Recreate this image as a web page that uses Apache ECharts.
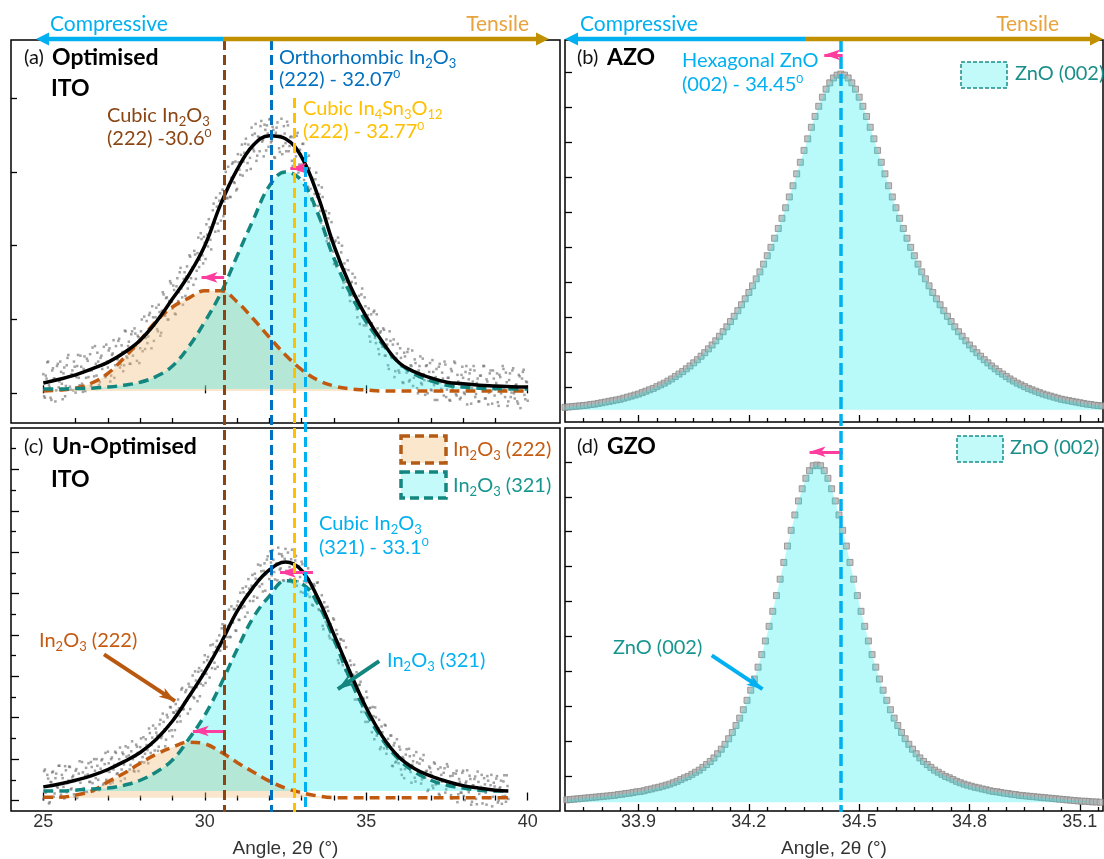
<!DOCTYPE html>
<html>
<head>
<meta charset="utf-8">
<title>XRD peak shifts - ITO, AZO, GZO</title>
<script src="https://cdn.jsdelivr.net/npm/echarts@6.0.0/dist/echarts.min.js"></script>
<style>
  html, body { margin: 0; padding: 0; background: #fff; }
  #chart { width: 1104px; height: 859px; }
</style>
</head>
<body>
<div id="chart"></div>
<script>
// ---------- ITO scans: 2θ (°), intensity in arbitrary units ----------
// Each scan is stored as two interleaved halves: points at start + k·0.05°
// and points at start + 0.025° + k·0.05°.
const scanStep = 0.05;
const optScanStart = 25;
const optScan = [
  26,-6,20,43,8,-9,34,20,4,40, 16,29,-8,35,10,48,23,5,31,43,
  1,37,21,51,13,33,3,47,22,53, 31,15,64,24,43,15,51,40,24,66,
  35,61,24,54,21,64,46,74,39,56, 38,84,48,70,40,84,60,81,44,76,
  61,100,76,60,98,77,109,61,103,92, 116,84,110,82,137,107,129,100,125,149,
  115,140,107,156,137,170,130,155,132,172, 151,185,167,147,188,166,211,181,209,176,
  204,229,199,225,195,248,231,265,230,261, 234,276,260,300,264,282,266,311,286,314,
  277,313,296,337,314,338,302,337,319,360, 331,352,315,348,328,369,343,364,329,352,
  371,340,361,320,353,367,332,349,324,362, 339,368,328,347,315,347,327,349,299,330,
  310,338,306,320,280,305,262,289,270,299, 254,270,231,266,239,247,210,244,207,210,
  175,207,178,204,174,200,150,168,144,167, 125,151,132,157,114,126,94,134,103,130,
  92,106,77,107,88,112,68,88,53,84, 63,86,51,66,33,71,48,73,30,54,
  31,61,36,14,50,28,60,18,37,10, 46,27,0,37,14,47,18,37,0,29,
  5,45,11,22,-9,36,15,28,-3,39, 5,21,-10,30,10,41,-3,16,-8,25,
  21,-1,37,5,27,-14,16,31,-1,20, -11,24,8,37,-7,16,1,31,-14,20,
  5,27,-17,22,9,33,-5,15,-11,27, 1,34,-7,12,-14,23,3,29,-2,16,
  -10
];
const optScanMid = [
  -4,24,42,11,-6,31,20,-11,37,8, 43,13,27,-4,38,52,9,26,4,36,
  22,52,11,36,2,50,21,44,31,10, 62,23,40,55,11,48,33,63,22,43,
  58,16,52,72,38,47,71,35,65,30, 85,50,64,40,80,51,88,64,78,41,
  84,57,104,75,68,106,87,118,71,103, 87,120,78,112,134,105,130,100,152,124,
  146,108,145,125,164,142,120,164,158,142, 187,156,171,193,155,190,171,217,187,212,
  182,215,236,208,223,257,219,253,220,271, 261,240,283,265,307,266,292,313,285,275,
  324,303,323,295,326,345,312,331,304,350, 328,365,322,347,362,341,321,357,363,334,
  372,342,357,319,360,348,327,372,335,352, 328,363,335,348,308,349,321,353,310,324,
  338,289,317,301,322,277,292,254,290,266, 282,247,279,226,242,206,237,210,232,192,
  205,172,211,178,191,143,176,151,180,133, 149,162,123,149,103,132,117,142,92,118,
  95,115,70,95,110,75,107,60,82,68, 88,51,73,38,84,49,66,22,48,67,
  28,48,15,55,34,56,16,38,58,21, 41,7,31,50,12,26,-2,38,17,41,
  4,29,-9,33,14,40,6,20,43,-5, 21,-9,33,6,43,-1,25,12,-6,36,
  1,29,-15,19,32,7,37,-5,14,-11, 24,10,37,-7,19,-15,27,3,31,-3,
  14,-12,25,0,37,6,28,-17,18,-5, 31,0,11,-11,25,-20,20,32,-8,15
];
const unoptScanStart = 25;
const unoptScan = [
  3,75,22,53,-4,44,70,17,65,31, 84,14,54,5,73,42,82,27,56,15,
  72,6,65,43,93,30,60,21,90,45, 81,22,72,100,50,67,97,38,88,50,
  118,69,100,44,86,115,66,100,47,116, 87,131,69,109,86,143,72,107,130,71,
  129,93,153,113,134,90,163,134,181,121, 164,120,184,151,210,172,147,201,168,225,
  155,212,233,190,223,191,272,221,262,242, 282,221,273,250,312,274,311,252,314,278,
  351,306,347,297,342,377,333,371,323,399, 373,426,371,411,395,461,395,436,462,411,
  471,437,502,465,503,444,498,535,482,519, 482,548,522,570,517,554,505,573,547,590,
  535,575,605,552,569,532,596,561,590,531, 608,550,575,535,606,556,580,519,566,540,
  577,502,552,527,561,492,520,471,519,485, 527,460,473,422,479,432,468,398,426,389,
  437,388,402,332,390,346,386,314,333,287, 338,286,304,244,310,264,280,214,248,214,
  263,190,223,195,226,148,201,174,195,129, 165,126,181,125,136,157,84,133,92,148,
  90,123,62,101,76,124,85,107,43,95, 55,117,70,89,41,97,55,70,23,82,
  68,36,92,39,55,16,80,46,67,19, 88,35,59,5,66,39,72,15,45,19,
  72,1,46,26,60,-10,37,52,4,70, 16,33,-7,54,19,59,6,37,-14,43,
  22,59,0,32,-8,46,11,61,4
];
const unoptScanMid = [
  71,19,62,-7,45,68,9,54,33,84, 8,62,33,83,20,48,81,29,60,9,
  76,49,95,26,68,20,79,63,45,93, 42,100,54,84,25,77,100,41,115,71,
  90,41,104,75,118,64,89,128,75,112, 53,106,128,75,119,100,70,135,115,92,
  150,105,92,148,122,174,115,152,108,174, 157,130,195,156,190,131,207,179,226,170,
  213,170,217,244,204,268,220,237,267,210, 275,254,302,247,290,240,320,282,305,334,
  284,339,325,375,320,358,318,386,371,362, 416,380,424,371,421,395,469,430,463,410,
  481,436,478,513,469,517,454,512,504,545, 493,536,490,535,568,523,555,507,582,555,
  602,544,582,534,573,611,558,595,532,584, 555,599,564,583,526,567,591,530,565,504,
  571,530,572,498,535,512,473,523,482,526, 462,479,496,414,466,428,458,392,418,440,
  381,412,339,379,389,327,344,370,317,282, 327,284,328,276,244,279,287,227,245,190,
  249,208,224,165,204,225,157,175,124,179, 142,183,113,149,130,157,83,139,94,110,
  130,75,105,54,111,82,125,69,86,109, 46,92,71,101,51,110,55,72,26,78,
  61,30,89,40,76,13,62,47,78,27, 82,36,13,60,40,65,-4,52,19,67,
  11,42,73,20,52,-3,36,58,-9,45, 24,62,7,39,-10,48,26,62,9,34,
  53,-5,29,48,10,61,-3,35
];

// ---------- Fitted ITO profiles, sampled every 0.5° ----------
const optFitAngles = [25,25.5,26,26.5,27,27.5,28,28.5,29,29.5,30,30.5,31,31.5,32,32.5,33,33.5,34,34.5,35,35.5,36,36.5,37,37.5,38,38.5,39,39.5,40];
const optFitTotal = [14,19,25,33,42,55,72,97,128,160,200,257,303,336,349,345,320,268,200,146,104,70,42,29,21,15,13,11,10,9,8.5];
const optFit222 = [3,4.5,7,14,27,48,72,98,117,129,139,139,124,101,76,52,32,18,10,6,4.5,3,3,3,3,3,3,3,3,3,3];
const optFit321 = [6,6,6.5,7,8.5,11,15,23,37,63,97,136,186,235,281,300,288,244,183,136,97,67,42,26,17,11,8.5,7,6.5,6,6];

const unoptFitAngles = [25,25.5,26,26.5,27,27.5,28,28.5,29,29.5,30,30.5,31,31.5,32,32.5,33,33.5,34,34.5,35,35.5,36,36.5,37,37.5,38,38.5,39,39.4];
const unoptFitTotal = [33,40,49,60,75,94,116,148,192,250,311,380,457,515,557,576,556,490,401,310,224,155,106,77,59,46,36,30,25,23];
const unoptFit222 = [8,8,13,23,45,66,90,112,129,141,137,117,92,69,47,30,19,11,7,7,7,7,7,7,7,7,7,7,7,7];
const unoptFit321 = [23,23,25,28,30,37,49,69,98,148,206,281,365,442,494,531,524,476,389,293,213,148,100,69,49,37,30,25,23,23];

// ---------- ZnO (002) scans, 0.01° steps, normalised intensity ----------
const zStep = 0.01;
const azoStart = 33.70;
const azoScan = [
  0.42,0.43,0.44,0.45,0.46,0.47,0.48,0.50,0.51,0.53, 0.55,0.57,0.59,0.61,0.63,0.65,0.68,0.71,0.74,0.77,
  0.80,0.84,0.88,0.92,0.96,1.01,1.06,1.11,1.17,1.23, 1.30,1.37,1.44,1.52,1.60,1.69,1.78,1.88,1.98,2.09,
  2.20,2.32,2.45,2.58,2.72,2.87,3.02,3.18,3.35,3.52, 3.70,3.89,4.09,4.29,4.51,4.75,4.99,5.25,5.53,5.82,
  6.12,6.43,6.75,7.09,7.42,7.76,8.09,8.42,8.73,9.02, 9.28,9.51,9.69,9.83,9.91,
  9.94,
  9.91,9.83,9.69,9.51,9.28,9.02,8.73,8.42,8.09,7.76, 7.42,7.09,6.75,6.43,6.12,5.82,5.53,5.25,4.99,4.75,
  4.51,4.29,4.09,3.89,3.70,3.52,3.35,3.18,3.02,2.87, 2.72,2.58,2.45,2.32,2.20,2.09,1.98,1.88,1.78,1.69,
  1.60,1.52,1.44,1.37,1.30,1.23,1.17,1.11,1.06,1.01, 0.96,0.92,0.88,0.84,0.80,0.77,0.74,0.71,0.68,0.65,
  0.63,0.61,0.59,0.57,0.55,0.53,0.51,0.50,0.48,0.47, 0.46
];
const gzoStart = 33.705;
const gzoScan = [
  0.32,0.33,0.34,0.35,0.36,0.37,0.38,0.39,0.40,0.41, 0.42,0.43,0.44,0.45,0.47,0.48,0.50,0.51,0.53,0.55,
  0.56,0.58,0.61,0.63,0.66,0.68,0.71,0.74,0.77,0.81, 0.85,0.90,0.95,0.99,1.05,1.11,1.17,1.25,1.33,1.42,
  1.52,1.64,1.77,1.91,2.07,2.25,2.45,2.66,2.90,3.17, 3.46,3.78,4.12,4.48,4.87,5.29,5.72,6.17,6.64,7.12,
  7.59,8.04,8.48,8.88,9.23,9.53,9.75,9.89,
  9.91,
  9.89,9.75,9.53,9.23,8.88,8.48,8.04,7.59,7.12,6.64, 6.17,5.72,5.29,4.87,4.48,4.12,3.78,3.46,3.17,2.90,
  2.66,2.45,2.25,2.07,1.91,1.77,1.64,1.52,1.42,1.33, 1.25,1.17,1.11,1.05,0.99,0.95,0.90,0.85,0.81,0.77,
  0.74,0.71,0.68,0.66,0.63,0.61,0.58,0.56,0.55,0.53, 0.51,0.50,0.48,0.47,0.45,0.44,0.43,0.42,0.41,0.40,
  0.39,0.38,0.37,0.36,0.35,0.34,0.33,0.32,0.31,0.30, 0.29,0.28,0.28,0.27,0.26,0.26,0.25
];

// Reference peak positions (°)
const itoRefAngles = [30.6, 32.07, 32.77, 33.1];
const znoRefAngle = 34.45;

// Axis ticks
const itoMajorTicks = [25, 30, 35, 40];
const itoMinorTicks = [26, 27, 28, 29, 31, 32, 33, 34, 36, 37, 38, 39];
const znoMajorTicks = [33.9, 34.2, 34.5, 34.8, 35.1];
const znoMinorTicks = [33.75, 33.8, 33.85, 33.95, 34.0, 34.05, 34.1, 34.15, 34.25, 34.3, 34.35, 34.4, 34.45,
  34.55, 34.6, 34.65, 34.7, 34.75, 34.85, 34.9, 34.95, 35.0, 35.05, 35.15];
const optYTicks = [0, 100, 200, 300, 400];
const unoptYMajor = [0, 100, 200, 300, 400, 500, 600, 700, 800];
const unoptYMinor = [50, 150, 250, 350, 450, 550, 650, 750, 850];
const znoYTicks = [1, 2, 3, 4, 5, 6, 7, 8, 9, 10];

// ---------- styling ----------
const FONT = 'Lato';
const AXIS_FONT = 'Liberation Sans';
const GRAY_DOT = 'rgba(110,110,110,0.8)';
const ORANGE = '#c05a10';
const TEAL = '#13877f';
const ORANGE_FILL = 'rgba(238,190,120,0.38)';
const CYAN_FILL = 'rgba(20,235,235,0.30)';
const PINK = '#ff3d9e';
const SKY = '#00b0f0';
const GOLD_ARROW = '#c09000';

const pairs = (xs, ys) => ys.map((y, i) => [xs[i], y]);
const scanPairs = (start, step, ys) => ys.map((y, i) => [+(start + i * step).toFixed(3), y]);

function tickAxis(gridIndex, min, max, values, length, extra) {
  return Object.assign({
    type: 'value', gridIndex, min, max,
    axisLine: { show: false },
    axisTick: { show: true, inside: true, length, customValues: values, lineStyle: { color: '#000', width: 1.3 } },
    axisLabel: { show: false },
    splitLine: { show: false },
    axisPointer: { show: false }
  }, extra || {});
}
const axisName = {
  name: 'Angle, 2\u03b8 (\u00b0)', nameLocation: 'middle', nameGap: 28,
  nameTextStyle: { fontSize: 19, fontFamily: AXIS_FONT, color: '#333' }
};
function labelled(values, fmt) {
  return { show: true, customValues: values, fontSize: 18, fontFamily: AXIS_FONT, color: '#333', margin: 2, formatter: fmt };
}

const ITO_X = [24, 41];
const ZNO_X = [33.7, 35.163];

const xAxis = [
  tickAxis(0, ITO_X[0], ITO_X[1], itoMajorTicks, 8, { position: 'bottom' }),
  tickAxis(0, ITO_X[0], ITO_X[1], itoMinorTicks, 5, { position: 'bottom' }),
  tickAxis(1, ITO_X[0], ITO_X[1], itoMajorTicks, 8, Object.assign({ position: 'bottom', axisLabel: labelled(itoMajorTicks, v => String(v)) }, axisName)),
  tickAxis(1, ITO_X[0], ITO_X[1], itoMinorTicks, 5, { position: 'bottom' }),
  tickAxis(2, ZNO_X[0], ZNO_X[1], znoMajorTicks, 7, { position: 'bottom' }),
  tickAxis(2, ZNO_X[0], ZNO_X[1], znoMinorTicks, 4, { position: 'bottom' }),
  tickAxis(3, ZNO_X[0], ZNO_X[1], znoMajorTicks, 7, Object.assign({ position: 'bottom', axisLabel: labelled(znoMajorTicks, v => v.toFixed(1)) }, axisName)),
  tickAxis(3, ZNO_X[0], ZNO_X[1], znoMinorTicks, 4, { position: 'bottom' }),
  { type: 'value', gridIndex: 4, min: ITO_X[0], max: ITO_X[1], show: false },
  { type: 'value', gridIndex: 5, min: ZNO_X[0], max: ZNO_X[1], show: false }
];
const yAxis = [
  tickAxis(0, -40.2, 478.7, optYTicks, 6, { position: 'left' }),
  tickAxis(1, -25.3, 900, unoptYMajor, 8, { position: 'left' }),
  tickAxis(1, -25.3, 900, unoptYMinor, 5, { position: 'left' }),
  tickAxis(2, 0, 10.914, znoYTicks, 7, { position: 'left' }),
  tickAxis(3, 0, 10.971, znoYTicks, 7, { position: 'left' }),
  { type: 'value', gridIndex: 4, min: 0, max: 1, show: false },
  { type: 'value', gridIndex: 5, min: 0, max: 1, show: false }
];

const frame = { show: true, borderColor: '#000', borderWidth: 1.5, backgroundColor: 'transparent' };
const grid = [
  Object.assign({ left: 11, right: 544, top: 40, bottom: 436 }, frame),
  Object.assign({ left: 11, right: 544, top: 428, bottom: 47 }, frame),
  Object.assign({ left: 565, right: 1, top: 40, bottom: 437 }, frame),
  Object.assign({ left: 565, right: 1, top: 428, bottom: 47 }, frame),
  { left: 11, right: 544, top: 40, bottom: 47, show: false },
  { left: 565, right: 1, top: 40, bottom: 47, show: false }
];

function scan(xi, yi, data) {
  return { type: 'scatter', xAxisIndex: xi, yAxisIndex: yi, data, symbol: 'rect', symbolSize: 2.5,
    itemStyle: { color: GRAY_DOT }, silent: true };
}
function component(xi, yi, data, color, fill, base) {
  return { type: 'line', xAxisIndex: xi, yAxisIndex: yi, data, smooth: 0.4, showSymbol: false, silent: true,
    lineStyle: { color, width: 3.5, type: [10, 6] },
    areaStyle: { color: fill, origin: base, opacity: 1 } };
}
function fit(xi, yi, data) {
  return { type: 'line', xAxisIndex: xi, yAxisIndex: yi, data, smooth: 0.4, showSymbol: false, silent: true,
    lineStyle: { color: '#000', width: 3.5 } };
}
function arrows(xi, yi, list, z) {
  return { type: 'line', xAxisIndex: xi, yAxisIndex: yi, data: [], silent: true, z: z || 6,
    markLine: { silent: true, animation: false, symbol: ['none', 'arrow'], label: { show: false },
      data: list.map(a => [
        { coord: [a[0], a[1]], symbolSize: a[5] || 11, lineStyle: { color: a[4], width: a[6] || 3, type: 'solid' } },
        { coord: [a[2], a[3]] }
      ]) } };
}
function zno(xi, yi, data, base) {
  return [
    { type: 'line', xAxisIndex: xi, yAxisIndex: yi, data, showSymbol: false, silent: true,
      lineStyle: { width: 0, opacity: 0 }, areaStyle: { color: CYAN_FILL, origin: base, opacity: 1 } },
    { type: 'scatter', xAxisIndex: xi, yAxisIndex: yi, data, symbol: 'rect', symbolSize: 6, silent: true,
      itemStyle: { color: '#b4b4b4', borderColor: '#8a8a8a', borderWidth: 1 } }
  ];
}

const series = [
  // (a) optimised ITO
  scan(0, 0, scanPairs(optScanStart, scanStep, optScan)),
  scan(0, 0, scanPairs(optScanStart + scanStep / 2, scanStep, optScanMid)),
  component(0, 0, pairs(optFitAngles, optFit222), ORANGE, ORANGE_FILL, 3),
  component(0, 0, pairs(optFitAngles, optFit321), TEAL, CYAN_FILL, 6),
  fit(0, 0, pairs(optFitAngles, optFitTotal)),
  arrows(0, 0, [[33.2, 305, 32.65, 305, PINK], [30.6, 157, 29.9, 157, PINK]]),
  // (c) un-optimised ITO
  scan(2, 1, scanPairs(unoptScanStart, scanStep, unoptScan)),
  scan(2, 1, scanPairs(unoptScanStart + scanStep / 2, scanStep, unoptScanMid)),
  component(2, 1, pairs(unoptFitAngles, unoptFit222), ORANGE, ORANGE_FILL, 7),
  component(2, 1, pairs(unoptFitAngles, unoptFit321), TEAL, CYAN_FILL, 23),
  fit(2, 1, pairs(unoptFitAngles, unoptFitTotal)),
  arrows(2, 1, [
    [33.35, 551, 32.33, 551, PINK], [30.6, 168, 29.63, 168, PINK],
    [26.88, 353, 29.08, 240, '#b8590f', 14, 4], [35.40, 337, 34.12, 269, TEAL, 14, 4]
  ]),
  // (b) AZO
  ...zno(4, 3, scanPairs(azoStart, zStep, azoScan), 0.35),
  arrows(4, 3, [[34.455, 10.49, 34.405, 10.49, PINK]]),
  // (d) GZO
  ...zno(6, 4, scanPairs(gzoStart, zStep, gzoScan), 0.25),
  arrows(6, 4, [[34.455, 10.29, 34.365, 10.29, PINK], [34.099, 4.46, 34.237, 3.49, SKY, 14, 4]]),
  // reference positions across both ITO panels
  { type: 'line', xAxisIndex: 8, yAxisIndex: 5, data: [], silent: true, z: 5,
    markLine: { silent: true, animation: false, symbol: ['none', 'none'], label: { show: false },
      data: itoRefAngles.map((a, i) => [
        { coord: [a, [1, 1, 0.925, 0.855][i]],
          lineStyle: { color: ['#8b4513', '#0070c0', '#ffc000', SKY][i], width: 3, type: [10, 5] } },
        { coord: [a, 0] }
      ]) } },
  // ZnO (002) reference across both ZnO panels
  { type: 'line', xAxisIndex: 9, yAxisIndex: 6, data: [], silent: true, z: 5,
    markLine: { silent: true, animation: false, symbol: ['none', 'none'], label: { show: false },
      data: [[{ coord: [znoRefAngle, 1], lineStyle: { color: SKY, width: 3.5, type: [12, 5] } }, { coord: [znoRefAngle, 0] }]] } }
];

// ---------- text and strain arrows ----------
function rich(color) {
  return {
    s: { fontSize: 13, fontFamily: FONT, fill: color, verticalAlign: 'bottom', lineHeight: 13 },
    p: { fontSize: 12, fontFamily: FONT, fill: color, verticalAlign: 'top', lineHeight: 13 }
  };
}
function txt(x, y, text, color, align, size, weight) {
  return { type: 'text', x, y, z: 50, silent: true,
    style: { text, fill: color, fontFamily: FONT, fontSize: size || 20, fontWeight: weight || 'normal', lineHeight: 24,
      align: align || 'left', textAlign: align || 'left', verticalAlign: 'middle', textVerticalAlign: 'middle',
      rich: rich(color) } };
}
function strainArrow(x1, x2, mid, y) {
  const h = 6.5, L = 13;
  return [
    { type: 'line', z: 40, silent: true, shape: { x1: x1 + L - 1, y1: y, x2: mid, y2: y }, style: { stroke: SKY, lineWidth: 4.5 } },
    { type: 'polygon', z: 40, silent: true, shape: { points: [[x1, y], [x1 + L, y - h], [x1 + L, y + h]] }, style: { fill: SKY } },
    { type: 'line', z: 40, silent: true, shape: { x1: mid, y1: y, x2: x2 - L + 1, y2: y }, style: { stroke: GOLD_ARROW, lineWidth: 4.5 } },
    { type: 'polygon', z: 40, silent: true, shape: { points: [[x2, y], [x2 - L, y - h], [x2 - L, y + h]] }, style: { fill: GOLD_ARROW } }
  ];
}
function legendBox(x, y, w, h, stroke, fill, lw, dash) {
  return { type: 'rect', z: 45, silent: true, shape: { x, y, width: w, height: h },
    style: { fill, stroke, lineWidth: lw, lineDash: dash } };
}

const graphic = [
  ...strainArrow(36, 549, 223, 39),
  ...strainArrow(565, 1103, 805, 39),
  txt(50, 24, 'Compressive', SKY, 'left', 21),
  txt(529, 24, 'Tensile', '#e8a33c', 'right', 21),
  txt(580, 24, 'Compressive', SKY, 'left', 21),
  txt(1059, 24, 'Tensile', '#e8a33c', 'right', 21),

  txt(24, 58, '(a)', '#111'),
  txt(52, 58, 'Optimised', '#000', 'left', 23, 'bold'),
  txt(51, 89, 'ITO', '#000', 'left', 23, 'bold'),
  txt(24, 447, '(c)', '#111'),
  txt(52, 447, 'Un-Optimised', '#000', 'left', 23, 'bold'),
  txt(51, 480, 'ITO', '#000', 'left', 23, 'bold'),
  txt(577, 58, '(b)', '#111'),
  txt(607, 58, 'AZO', '#000', 'left', 23, 'bold'),
  txt(577, 447, '(d)', '#111'),
  txt(607, 447, 'GZO', '#000', 'left', 23, 'bold'),

  txt(279, 58, 'Orthorhombic In{s|2}O{s|3}', '#0070c0'),
  txt(279, 80, '(222) - 32.07{p|0}', '#0070c0'),
  txt(107, 116, 'Cubic In{s|2}O{s|3}', '#8b4513'),
  txt(107, 139, '(222) -30.6{p|0}', '#8b4513'),
  txt(303, 109, 'Cubic In{s|4}Sn{s|3}O{s|12}', '#ffc000'),
  txt(303, 132, '(222) - 32.77{p|0}', '#ffc000'),
  txt(682, 61, 'Hexagonal ZnO', SKY),
  txt(682, 85, '(002) - 34.45{p|0}', SKY),
  txt(319, 524, 'Cubic In{s|2}O{s|3}', SKY),
  txt(319, 548, '(321) - 33.1{p|0}', SKY),
  txt(39, 641, 'In{s|2}O{s|3} (222)', '#c55a11'),
  txt(387, 661, 'In{s|2}O{s|3} (321)', SKY),
  txt(613, 648, 'ZnO (002)', '#17968f'),

  legendBox(961, 62, 46, 26, '#1a8f8a', '#c2fafa', 1.5, [4, 2]),
  txt(1015, 74, 'ZnO (002)', '#1a8f8a'),
  legendBox(957, 436, 46, 26, '#1a8f8a', '#c2fafa', 1.5, [4, 2]),
  txt(1010, 448, 'ZnO (002)', '#1a8f8a'),
  legendBox(401, 436, 45, 27, '#b35a14', '#fbe8cc', 3.5, [9, 5]),
  txt(453, 450, 'In{s|2}O{s|3} (222)', '#c55a11'),
  legendBox(401, 472, 45, 26, TEAL, '#c4fafa', 3.5, [9, 5]),
  txt(453, 486, 'In{s|2}O{s|3} (321)', '#17968f')
];

const chart = echarts.init(document.getElementById('chart'), null, { renderer: 'canvas' });
chart.setOption({
  animation: false,
  backgroundColor: '#fff',
  textStyle: { fontFamily: FONT },
  grid, xAxis, yAxis, series, graphic
});
</script>
</body>
</html>
